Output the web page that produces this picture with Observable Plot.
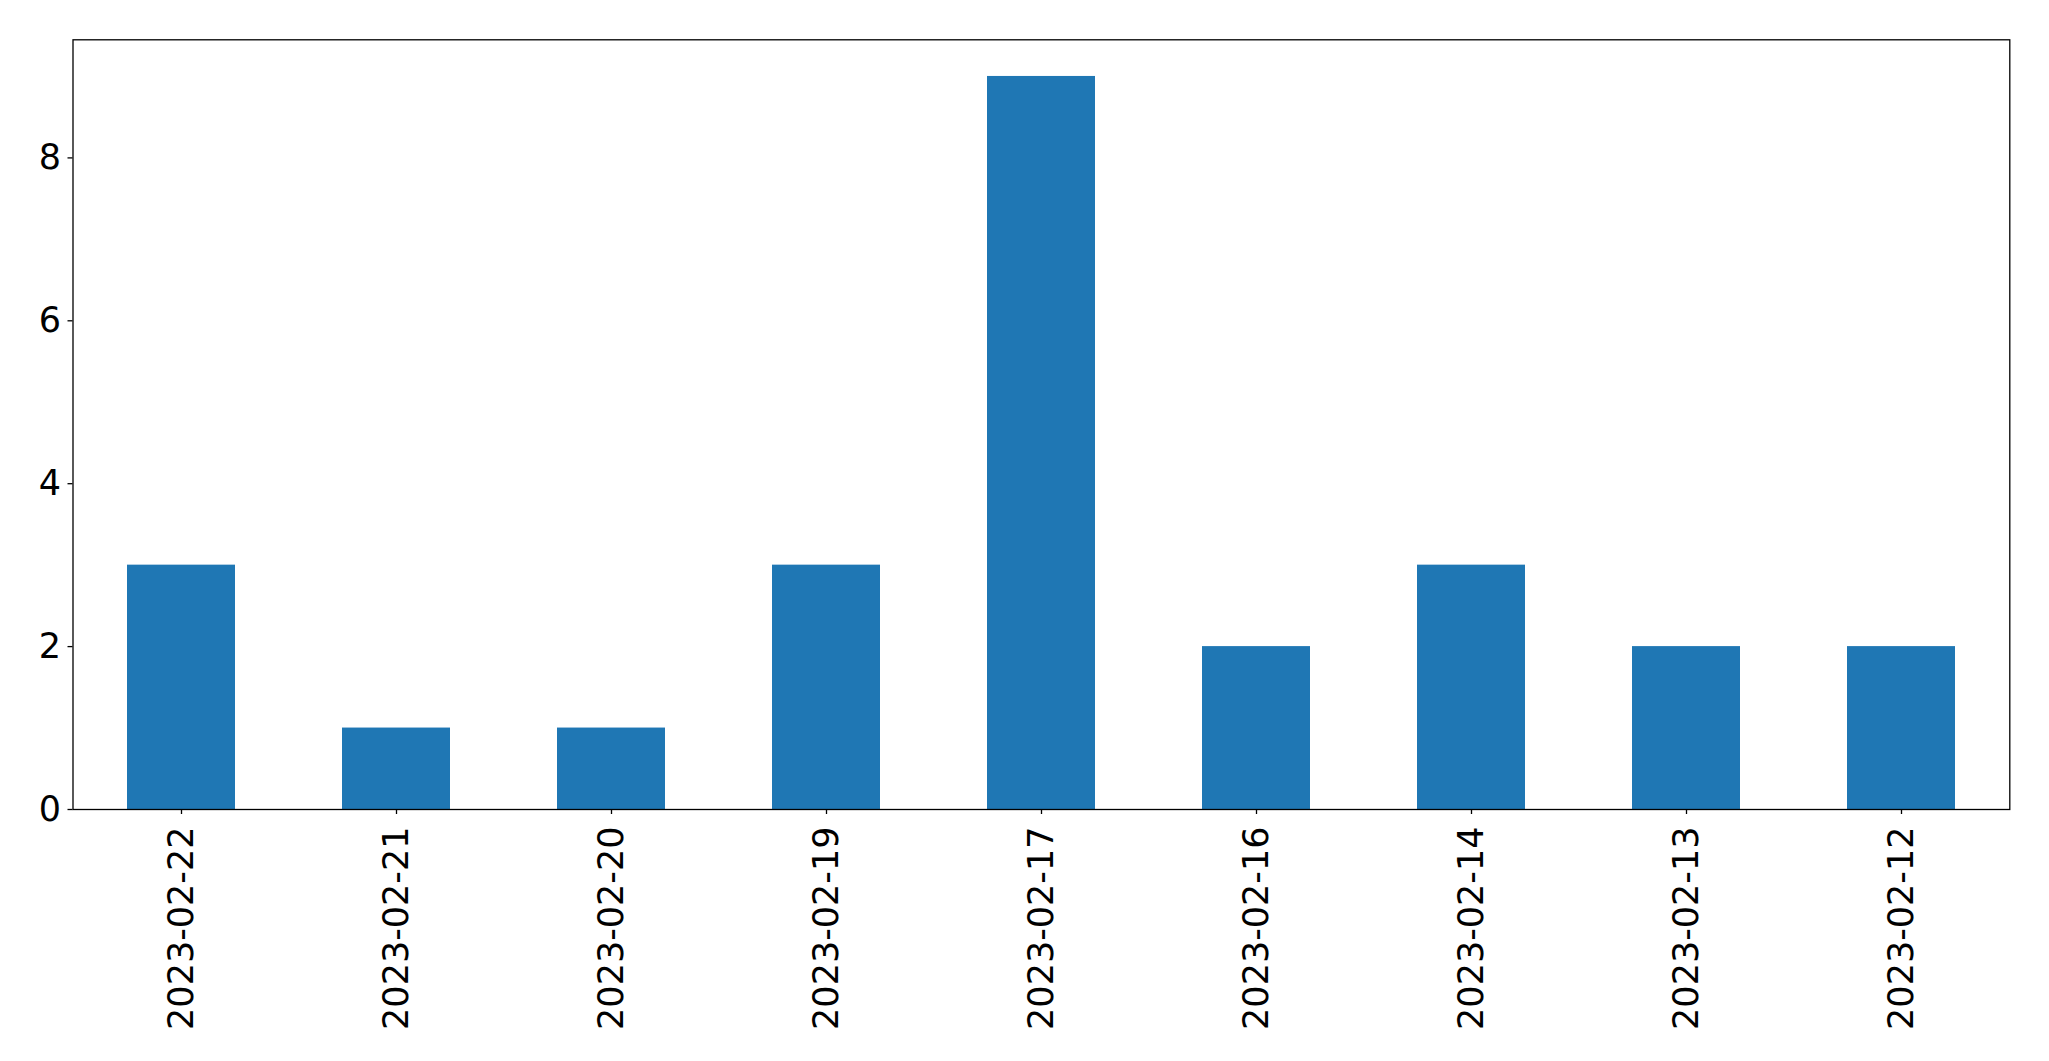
<!DOCTYPE html>
<html>
<head>
<meta charset="utf-8">
<script src="https://cdn.jsdelivr.net/npm/d3@7"></script>
<script src="https://cdn.jsdelivr.net/npm/@observablehq/plot@0.6"></script>
<style>
  html, body { margin: 0; padding: 0; background: #fff; }
  #chart svg { display: block; }
</style>
</head>
<body>
<div id="chart"></div>
<script>
const dates = ["2023-02-22", "2023-02-21", "2023-02-20", "2023-02-19", "2023-02-17", "2023-02-16", "2023-02-14", "2023-02-13", "2023-02-12"];
const counts = [3, 1, 1, 3, 9, 2, 3, 2, 2];
const yTicks = [0, 2, 4, 6, 8];

const data = dates.map((d, i) => ({date: d, count: counts[i]}));

const chart = Plot.plot({
  width: 2049,
  height: 1061,
  marginLeft: 72.5,
  marginRight: 39.7,
  marginTop: 39.3,
  marginBottom: 252,
  style: {fontFamily: "DejaVu Sans", fontSize: "35px", color: "#000", background: "#fff", overflow: "visible"},
  x: {domain: dates, paddingInner: 0.5, paddingOuter: 0.25, align: 0.5, label: null},
  y: {domain: [0, 9.45], label: null},
  marks: [
    Plot.barY(data, {x: "date", y: "count", fill: "#1f77b4"}),
    Plot.frame({stroke: "#000", strokeWidth: 1.3}),
    Plot.axisY({ticks: yTicks, tickSize: 5, tickPadding: 7, label: null, tickFormat: d => String(d), stroke: "#000", strokeWidth: 1.3}),
    Plot.axisX({tickRotate: -90, tickSize: 5, tickPadding: 12, label: null, stroke: "#000", strokeWidth: 1.3})
  ]
});
document.getElementById("chart").appendChild(chart);
</script>
</body>
</html>
